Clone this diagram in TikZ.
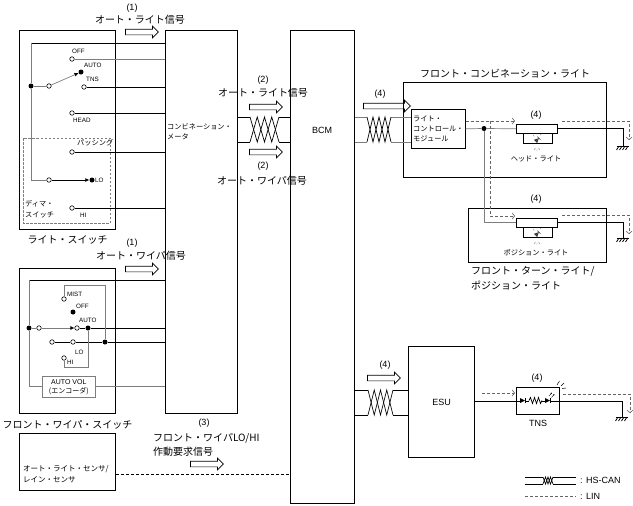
\documentclass[tikz,border=0pt]{standalone}
\usepackage{fontspec}
\setmainfont{Liberation Sans}
\newfontfamily\jp{Noto Sans CJK JP}
\usepackage{tikz}
\usetikzlibrary{arrows.meta,shapes.arrows,positioning}
\definecolor{wiregray}{RGB}{125,125,125}
\definecolor{lingray}{RGB}{100,100,100}
\tikzstyle{unit} = [draw, line width=1.2pt, inner sep=0pt, anchor=north west]
\tikzstyle{subunit} = [draw, line width=0.6pt, inner sep=0pt, anchor=north west]
\tikzstyle{wire} = [line width=0.7pt]
\tikzstyle{gwire} = [line width=0.7pt, color=wiregray]
\tikzstyle{lin} = [line width=0.6pt, color=lingray, dash pattern=on 3pt off 2pt, -{Straight Barb[length=2.5pt,width=6pt]}]
\tikzstyle{term} = [circle, draw, fill=white, inner sep=0pt, minimum size=4.5pt, line width=0.6pt]
\tikzstyle{junc} = [circle, fill=black, inner sep=0pt, minimum size=5pt]
\tikzstyle{sig} = [single arrow, draw, line width=0.7pt, inner sep=2.5pt, minimum height=33pt, single arrow head extend=3pt]
\tikzstyle{jlabel} = [font=\jp\fontsize{10}{12}\selectfont, inner sep=0pt]
\tikzstyle{numtag} = [font=\fontsize{9}{11}\selectfont, inner sep=0pt]
\tikzstyle{jsmall} = [font=\jp\fontsize{7.2}{10}\selectfont, inner sep=0pt, align=left, anchor=west]
\tikzstyle{termtext} = [font=\fontsize{6.3}{7}\selectfont, inner sep=0pt, anchor=west]
\tikzstyle{lever} = [-{Latex[length=4pt,width=4pt,color=black]}]

% twisted pair: x from, x to, upper y, lower y
\newcommand{\twistpair}[4]{%
  \fill[white] (#1,{#3-1}) rectangle (#2,{#4+1});
  \pgfmathsetmacro\twd{(#2-#1)/4}
  \pgfmathsetmacro\tht{#4-#3}
  \draw[wire] (#1,#3) -- ++(\twd,\tht) -- ++(\twd,-\tht) -- ++(\twd,\tht) -- ++(\twd,-\tht);
  \draw[wire] (#1,#4) -- ++(\twd,-\tht) -- ++(\twd,\tht) -- ++(\twd,-\tht) -- ++(\twd,\tht);
}
% body earth
\newcommand{\ground}[2]{%
  \draw[line width=1pt] ({#1-6},#2) -- ({#1+6},#2);
  \foreach \g in {-4,-1,2,5} \draw[line width=0.8pt] ({#1+\g},#2) -- ({#1+\g-2.5},{#2+4});
}
% bulb on the lamp loop (centre of the symbol)
\newcommand{\lampsym}[2]{%
  \fill[black!80] ({#1+1.8},{#2-1.8}) -- ({#1-1.4},{#2+1.4}) -- ({#1-3},{#2-0.2}) -- cycle;
  \fill[black!80] ({#1+1.8},{#2-1.8}) -- ({#1-1.4},{#2+1.4}) -- ({#1+0.2},{#2+3}) -- cycle;
  \draw[black!80, line width=0.6pt] ({#1+0.4},{#2-3.4}) -- ({#1+3.4},{#2-0.4});
  \draw[wiregray, line width=0.4pt] ({#1-4},{#2-5}) -- ({#1-2.8},{#2-3.6}) (#1,{#2-7}) -- (#1,{#2-5}) ({#1+4},{#2-6}) -- ({#1+3},{#2-4.8});
  \draw[wiregray, line width=0.4pt] ({#1-3},{#2+10}) -- ({#1-1.6},{#2+8}) (#1,{#2+11}) -- (#1,{#2+8.5}) ({#1+3},{#2+10}) -- ({#1+1.6},{#2+8});
}
\newcommand{\diodesym}[2]{%
  \fill ({#1},{#2-2.5}) -- ({#1+5},#2) -- ({#1},{#2+2.5}) -- cycle;
  \draw[line width=0.7pt] ({#1+5.3},{#2-2.6}) -- ({#1+5.3},{#2+2.6});
}

\begin{document}
\begin{tikzpicture}[x=1pt, y=-1pt]
\useasboundingbox (0,0) rectangle (633,506);

% Units
\node[unit, minimum width=96, minimum height=199] (lsw) at (19,30) {};
\node[unit, minimum width=96, minimum height=145] (wsw) at (19,268) {};
\node[unit, minimum width=96, minimum height=57] (sensor) at (19,433) {};
\node[unit, minimum width=72, minimum height=383] (meter) at (165,30) {};
\node[unit, minimum width=64, minimum height=473] (bcm) at (290,30) {};
\node[unit, minimum width=203, minimum height=95] (fcl) at (403,82) {};
\node[unit, minimum width=138, minimum height=54] (ptl) at (468,208) {};
\node[unit, minimum width=66, minimum height=111] (esu) at (408,346) {};
\node[unit, minimum width=43, minimum height=27] (tns) at (516,387) {};
\node[subunit, minimum width=54, minimum height=39] (lcm) at (411,109) {};
\node[subunit, minimum width=41, minimum height=9] (hl) at (516,124) {};
\node[subunit, minimum width=41, minimum height=9] (pl) at (516,218) {};

% Unit names
\node[numtag] (bcmtext) at (322,130) {BCM};
\node[numtag] (esutext) at (esu.center) {ESU};
\node[numtag, below=5pt of tns] (tnstext) {TNS};
\node[jlabel, below=5pt of lsw] (lswtext) {ライト・スイッチ};
\node[jlabel, below=6pt of wsw] (wswtext) {フロント・ワイパ・スイッチ};
\node[jlabel, above=4pt of fcl] (fcltext) {フロント・コンビネーション・ライト};
\node[jlabel, align=left, anchor=north west, font=\jp\fontsize{10}{15.5}\selectfont] (ptltext) at (471,266) {フロント・ターン・ライト/\\ポジション・ライト};
\node[jsmall] (metertext) at (167,131.5) {コンビネーション・\\メータ};
\node[jsmall] (lcmtext) at (413,128.5) {ライト・\\コントロール・\\モジュール};
\node[jsmall, font=\jp\fontsize{7.5}{11}\selectfont] (sensortext) at (23,474.5) {オート・ライト・センサ/\\レイン・センサ};
\node[jsmall, anchor=center] (hltext) at (536,159) {ヘッド・ライト};
\node[jsmall, anchor=center] (pltext) at (536,253) {ポジション・ライト};

% Signal arrows
\node[sig] (ar1l) at (140.5,32) {};
\node[sig] (ar1w) at (140.5,269) {};
\node[sig] (ar2l) at (264.5,107) {};
\node[sig] (ar2w) at (264.5,152) {};
\node[sig] (ar3) at (205.5,464) {};
\node[sig, minimum height=47pt] (ar4f) at (385.5,106) {};
\node[sig] (ar4e) at (382.5,378) {};
\node[numtag] (n1l) at (132,8) {(1)};
\node[jlabel] (s1l) at (140,20) {オート・ライト信号};
\node[numtag] (n1w) at (132,243) {(1)};
\node[jlabel] (s1w) at (141,256) {オート・ワイパ信号};
\node[numtag] (n2l) at (263,80) {(2)};
\node[jlabel] (s2l) at (263,93) {オート・ライト信号};
\node[numtag] (n2w) at (263,166) {(2)};
\node[jlabel] (s2w) at (262,181) {オート・ワイパ信号};
\node[numtag] (n3) at (204,423) {(3)};
\node[jlabel, anchor=west] (s3a) at (153,438) {フロント・ワイパLO/HI};
\node[jlabel, anchor=west] (s3b) at (153,452) {作動要求信号};
\node[numtag] (n4f) at (380,94) {(4)};
\node[numtag] (n4e) at (385,365) {(4)};
\node[numtag] (n4h) at (536,115) {(4)};
\node[numtag] (n4p) at (536,199) {(4)};
\node[numtag] (n4t) at (537,378) {(4)};

% Light switch
\draw[dash pattern=on 2.5pt off 1.5pt, line width=0.6pt, wiregray] (23,138) rectangle (110,223);
\coordinate (lbus) at (31,43);
\node[junc] (ljn) at (31,86) {};
\node[term] (lcom) at (49,86) {};
\node[junc] (lauto) at (81,72) {};
\node[term] (loff) at (72,59) {};
\node[term] (ltns) at (84,87) {};
\node[term] (lhead) at (72,113) {};
\node[term] (lpass) at (72,152) {};
\node[term] (llocom) at (49,180) {};
\node[junc] (llo) at (92,180) {};
\node[term] (lhi) at (72,208) {};
\draw[wire] (lbus) -- (lbus -| meter.west);
\draw[gwire] (lbus) -- (ljn) -- (ljn |- llocom) -- (llocom);
\draw[gwire] (ljn) -- (lcom);
\draw[gwire, lever] (lcom) -- (lauto);
\draw[gwire] (loff) -- (loff -| meter.west);
\draw[wire] (ltns) -- (ltns -| meter.west);
\draw[wire] (lhead) -- (lhead -| meter.west);
\draw[wire] (lpass) -- (lpass -| meter.west);
\draw[wire, lever] (llocom) -- (llo);
\draw[wire] (lhi) -- (lhi -| meter.west);
\node[termtext] (loffl) at (72,51) {OFF};
\node[termtext] (lautol) at (84,65) {AUTO};
\node[termtext] (ltnsl) at (86,79) {TNS};
\node[termtext] (lheadl) at (73,120) {HEAD};
\node[jsmall] (lpassl) at (77,143) {パッシング};
\node[termtext] (llol) at (95,180) {LO};
\node[termtext] (lhil) at (80,215) {HI};
\node[jsmall, font=\jp\fontsize{7.2}{11}\selectfont] (dimtext) at (25,209.5) {ディマ・\\スイッチ};

% Wiper switch
\coordinate (wbus) at (29,280);
\node[junc] (wjn) at (29,328) {};
\node[term] (wcom) at (39,328) {};
\node[term] (wauto) at (77,328) {};
\node[junc] (wautoj) at (88,328) {};
\node[term] (wmist) at (64,299) {};
\node[junc] (woff) at (73,312) {};
\node[term] (wlocom) at (52,342) {};
\node[term] (wlo) at (73,342) {};
\node[junc] (wloj) at (105,342) {};
\node[term] (whi) at (64,358) {};
\node[subunit, draw=wiregray, minimum width=53, minimum height=21, align=center, font=\fontsize{7}{9}\selectfont] (avol) at (42,376) {AUTO VOL\\{\jp (エンコーダ)}};
\draw[wire] (wbus) -- (wbus -| meter.west);
\draw[gwire] (wbus) -- (wjn) -- (wjn |- avol.west) -- (avol.west);
\draw[gwire] (avol.east) -- (avol.east -| meter.west);
\draw[gwire] (wjn) -- (wcom);
\draw[gwire, lever] (wcom) -- (wauto);
\draw[wire] (wauto) -- (wautoj) -- (wautoj -| meter.west);
\draw[wire] (wlocom) -- (wlo) -- (wloj) -- (wloj -| meter.west);
\draw[gwire] (wmist) -- (wmist |- 0,285) -- (wloj |- 0,285) -- (wloj);
\draw[gwire] (whi) -- (whi |- 0,367) -- (wautoj |- 0,367) -- (wautoj);
\node[termtext] (wmistl) at (67,294) {MIST};
\node[termtext] (woffl) at (76,306) {OFF};
\node[termtext] (wautol) at (79,320) {AUTO};
\node[termtext] (wlol) at (75,352) {LO};
\node[termtext] (whil) at (67,362) {HI};

% Sensor line (LIN)
\draw[line width=0.5pt, dash pattern=on 3pt off 2pt] (sensor.east |- 0,474) -- (bcm.west |- 0,474);

% HS-CAN lines
\draw[wire] (meter.east |- 0,117) -- (bcm.west |- 0,117);
\draw[wire] (meter.east |- 0,142) -- (bcm.west |- 0,142);
\twistpair{250}{279}{117}{142}
\draw[gwire] (bcm.east |- 0,117) -- (lcm.west |- 0,117);
\draw[gwire] (bcm.east |- 0,142) -- (lcm.west |- 0,142);
\twistpair{367}{391}{117}{142}
\draw[wire] (bcm.east |- 0,390) -- (esu.west |- 0,390);
\draw[wire] (bcm.east |- 0,415) -- (esu.west |- 0,415);
\twistpair{368}{393}{390}{415}

% Front combination light
\node[junc] (fjn) at (484,128.5) {};
\coordinate (linsplit) at (490,121);
\coordinate (hlgnd) at (623,146);
\coordinate (plgnd) at (623,238);
\draw[gwire] (lcm.east) -- (fjn) -- (hl.west);
\draw[gwire] (fjn) -- (fjn |- pl.west) -- (pl.west);
\draw[wire] (hl.east) -| (hlgnd);
\draw[wire] (pl.east) -| (plgnd);
\ground{623}{146}
\ground{623}{238}
\draw[lin, shorten >=1pt] (lcm.east |- linsplit) -- (hl.west |- linsplit);
\draw[lin, shorten >=1pt] (linsplit) |- (pl.west |- 0,216);
\draw[lin] (562,121) -| (629,140);
\draw[lin] (562,215) -| (629,234);
\draw[wire] ([xshift=7pt]hl.south west) |- ([xshift=-5pt,yshift=-10pt]hl.south east) -- ([xshift=-5pt]hl.south east);
\draw[wire] ([xshift=7pt]pl.south west) |- ([xshift=-5pt,yshift=-10pt]pl.south east) -- ([xshift=-5pt]pl.south east);
\lampsym{537}{140}
\lampsym{537}{234}

% ESU and TNS lamp
\coordinate (tnsgnd) at (622,417);
\draw[wire] (esu.east |- tns.west) -- (tns.west);
\draw[wire] (tns.west) -- ++(4,0) (tns.west) ++(10,0) -- ++(3,0) (tns.west) ++(26,0) -- ++(3,0) (tns.west) ++(35,0) -- (tns.east);
\draw[wire] (529,400.5) -- (530.5,397.5) -- (532.5,403.5) -- (534.5,397.5) -- (536.5,403.5) -- (538.5,397.5) -- (540.5,403.5) -- (542,400.5);
\diodesym{520}{400.5}
\diodesym{545}{400.5}
\draw[line width=0.4pt, -{Latex[length=1.5pt,width=1.5pt]}] (549,396) -- (552,392.5);
\draw[line width=0.4pt, -{Latex[length=1.5pt,width=1.5pt]}] (551.5,397.5) -- (554.5,394);
\draw[line width=0.5pt] (557,385) -- (559.5,381) (561,386) -- (564,383) (562,388.5) -- (566,388);
\draw[wire] (tns.east) -| (tnsgnd);
\ground{622}{417}
\draw[lin, shorten >=1pt] (482,393) -- (tns.west |- 0,393);
\draw[lin] (563,394) -| (630,413);

% Legend
\coordinate (canleg) at (525,477);
\coordinate (linleg) at (525,496);
\draw[wire] (canleg) -- ++(51,0);
\draw[wire] (canleg) ++(0,7) -- ++(51,0);
\twistpair{543}{553}{477}{484}
\draw[line width=0.6pt, lingray, dash pattern=on 3pt off 2pt] (linleg) -- ++(51,0);
\node[numtag, anchor=west] (cantext) at (580,480.5) {: HS-CAN};
\node[numtag, anchor=west] (lintext) at (580,496) {: LIN};
\end{tikzpicture}
\end{document}
